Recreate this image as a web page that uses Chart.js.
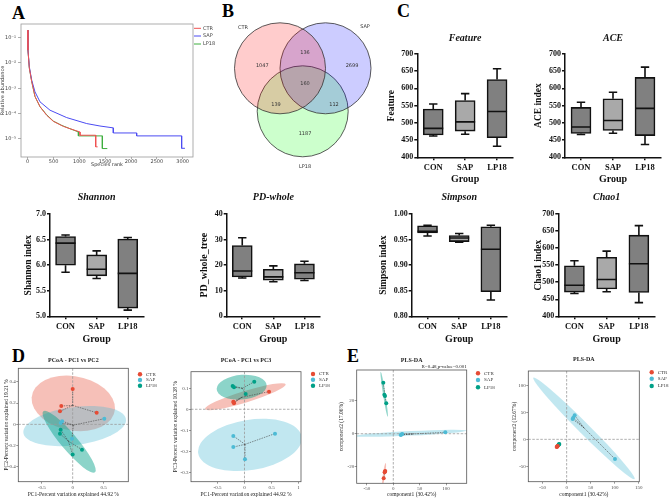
<!DOCTYPE html>
<html>
<head>
<meta charset="utf-8">
<script src="https://cdn.jsdelivr.net/npm/chart.js@4.4.1/dist/chart.umd.min.js"></script>
<style>
  body { margin: 0; background: #fff; }
  #fig { position: relative; width: 669px; height: 500px; overflow: hidden; background: #fff; }
  #fig canvas { position: absolute; }
  .tag { position: absolute; font-family: "Liberation Serif", serif; font-weight: bold; font-size: 18px; line-height: 1; color: #000; }
</style>
</head>
<body>
<div id="fig">
  <div class="tag" style="left:12px;top:4px">A</div>
  <div class="tag" style="left:222px;top:2px">B</div>
  <div class="tag" style="left:397px;top:2px">C</div>
  <div class="tag" style="left:12px;top:347px">D</div>
  <div class="tag" style="left:347px;top:347px">E</div>
</div>
<script>
// ---- A: rank abundance ----
const ctrRank  = [1, 5, 31, 77, 141, 238, 367, 496, 690, 819, 1012, 1012, 1316, 1316, 1354];
const ctrAbund = [0.2, 0.0324, 0.0063, 0.00186, 4.7e-4, 1.86e-4, 8.5e-5, 4.9e-5, 3.1e-5, 2.5e-5, 1.86e-5, 1.38e-5, 1.38e-5, 4.8e-6, 4.8e-6];
const sapRank  = [1, 5, 31, 77, 141, 238, 432, 754, 1142, 1399, 1657, 1657, 2109, 2109, 2980, 2980, 3044];
const sapAbund = [0.2, 0.0324, 0.00708, 0.00209, 7.2e-4, 2.9e-4, 1.35e-4, 6.9e-5, 4.0e-5, 3.2e-5, 2.7e-5, 1.7e-5, 1.7e-5, 1.3e-5, 1.3e-5, 4.2e-6, 4.2e-6];
const lpRank   = [1, 5, 31, 77, 141, 238, 367, 496, 657, 819, 981, 981, 1445, 1445, 1541];
const lpAbund  = [0.2, 0.0324, 0.0063, 0.00186, 4.7e-4, 1.86e-4, 8.9e-5, 5.0e-5, 3.4e-5, 2.5e-5, 1.86e-5, 1.3e-5, 1.3e-5, 4.1e-6, 4.1e-6];
const rankTicks  = [0, 500, 1000, 1500, 2000, 2500, 3000];
const abundTicks = [1e-1, 1e-2, 1e-3, 1e-4, 1e-5];

// ---- B: venn ----
const vennSets   = ['CTR', 'SAP', 'LP18'];
const vennCounts = [1047, 136, 2699, 160, 139, 112, 1187]; // CTR, CTR&SAP, SAP, all, CTR&LP18, SAP&LP18, LP18

// ---- C: alpha diversity, [min, q1, median, q3, max] per group ----
const groupsC = ['CON', 'SAP', 'LP18'];
const featureBox = [[462, 465, 484, 540, 555], [467, 476, 503, 565, 585], [432, 457, 533, 626, 657]];
const aceBox     = [[466, 469, 488, 545, 560], [470, 478, 507, 570, 589], [437, 463, 542, 632, 662]];
const shannonBox = [[5.86, 6.0, 6.43, 6.56, 6.59], [5.74, 5.79, 5.92, 6.2, 6.28], [5.12, 5.16, 5.84, 6.51, 6.54]];
const pdBox      = [[15.0, 15.4, 17.7, 27.7, 30.7], [13.5, 14.1, 15.4, 18.4, 19.7], [14.0, 14.5, 17.0, 20.5, 21.5]];
const simpsonBox = [[0.957, 0.963, 0.966, 0.977, 0.978], [0.945, 0.946, 0.953, 0.958, 0.962], [0.832, 0.848, 0.931, 0.975, 0.978]];
const chao1Box   = [[467, 471, 491, 548, 563], [472, 480, 508, 573, 591], [440, 470, 554, 638, 666]];
const richTicks   = [400, 450, 500, 550, 600, 650, 700];
const shannonTicks = [5.0, 5.5, 6.0, 6.5, 7.0];
const pdTicks      = [0, 10, 20, 30, 40];
const simpsonTicks = [0.80, 0.85, 0.90, 0.95, 1.00];

// ---- D / E: ordination, groups CTR, SAP, LP18 ----
const groupsD = ['CTR', 'SAP', 'LP18'];
const d1Ctr = [[0, 0.331], [-0.184, 0.172], [-0.205, 0.122], [0.387, 0.109]];
const d1Sap = [[0.51, 0.053], [-0.194, 0.012], [-0.011, -0.135], [-0.17, 0.03]];
const d1Lp  = [[-0.205, -0.088], [-0.194, -0.05], [0, -0.282], [0.15, -0.238]];
const d1Centroid = [[0, 0.178], [0.01, -0.007], [-0.07, -0.157]];
const d1Ellipse  = [[0.01, 0.197, 0.672, -0.055, 0.03, 0.255], [0.032, -0.016, 0.828, 0.055, 0, 0.18], [-0.057, -0.163, 0.417, -0.287, 0.102, 0.05]];
const d2Ctr = [[0.454, 0.084], [-0.207, 0.036], [-0.194, 0.029], [-0.2, 0.032]];
const d2Sap = [[-0.207, -0.127], [-0.207, -0.18], [0.009, -0.238], [0.565, -0.116]];
const d2Lp  = [[-0.219, 0.111], [-0.194, 0.105], [0.181, 0.131], [0.022, 0.073]];
const d2Centroid = [[-0.05, 0.057], [0.01, -0.167], [-0.04, 0.1]];
const d2Ellipse  = [[0.016, 0.06, 0.747, 0.059, 0.031, -0.026], [0.1, -0.17, 0.957, 0.04, 0.074, -0.118], [-0.052, 0.105, 0.463, 0.008, 0, 0.059]];
const e1Ctr = [[-15.2, -22.7], [-16.4, -23.5], [-18.2, -27.2], [-15.8, -23]];
const e1Sap = [[14, -0.8], [17, -0.2], [15.5, -0.5], [98.5, 0.85]];
const e1Lp  = [[-18.9, 31.1], [-17, 23.8], [-15.7, 23], [-13.3, 18.5]];
const e1Centroid = [[-16.4, -24.1], [36.2, -0.16], [-16.2, 24.1]];
const e1Ellipse  = [[-17.4, -24.6, 3.0, 6.7, 2.25, -0.1], [33.2, 0.24, 105.7, 1.65, 0, 1.4], [-17.25, 24.1, 6.6, -13.7, 2.24, 0.11]];
const e2Ctr = [[-19.4, -13], [-20.8, -14.2], [-18.7, -12.5], [-20, -13.5]];
const e2Sap = [[13.9, 40.1], [16.7, 44.4], [12.5, 37.6], [100.7, -36.4]];
const e2Lp  = [[-16, -9.3], [-17.4, -11.1], [-15.3, -8.5], [-16.7, -10]];
const e2Centroid = [[-19.7, -13.3], [36, 21.4], [-16.4, -9.7]];
const e2Ellipse  = [null, [36.1, 20.4, 105.5, -93.8, 8.1, 7.2], null];

// ---------------------------------------------------------------
const SERIF = '"Liberation Serif", "Times New Roman", serif';
const SANS = '"DejaVu Sans", sans-serif';
const fig = document.getElementById('fig');

function place(l, t, w, h) {
  const c = document.createElement('canvas');
  c.width = w; c.height = h;
  Object.assign(c.style, { left: l + 'px', top: t + 'px', width: w + 'px', height: h + 'px' });
  fig.appendChild(c);
  return c;
}

const sup = { '-': '⁻', '0': '⁰', '1': '¹', '2': '²', '3': '³', '4': '⁴', '5': '⁵', '6': '⁶', '7': '⁷', '8': '⁸', '9': '⁹' };

// ---------- A ----------
const rankDeco = {
  id: 'rankDeco',
  afterDraw(chart, args, o) {
    const { ctx, chartArea: a } = chart;
    ctx.save();
    ctx.strokeStyle = '#9a9a9a'; ctx.lineWidth = 0.8;
    ctx.strokeRect(a.left, a.top, a.width, a.height);
    ctx.font = '5px ' + SANS; ctx.textBaseline = 'middle';
    chart.data.datasets.forEach((d, i) => {
      ctx.strokeStyle = d.borderColor; ctx.lineWidth = 1;
      ctx.beginPath(); ctx.moveTo(o.x, o.y[i]); ctx.lineTo(o.x + 7, o.y[i]); ctx.stroke();
      ctx.fillStyle = '#444'; ctx.fillText(d.label, o.x + 9, o.y[i]);
    });
    ctx.restore();
  }
};

(function () {
  const cv = place(0, 18, 215, 152);
  const mk = (label, ranks, ab, color) => ({
    label, data: ranks.map((r, i) => ({ x: r, y: ab[i] })),
    borderColor: color, borderWidth: 1, pointRadius: 0, fill: false, tension: 0
  });
  const tickFont = { family: SANS, size: 5 };
  new Chart(cv, {
    type: 'line',
    data: { datasets: [mk('CTR', ctrRank, ctrAbund, '#f05252'), mk('SAP', sapRank, sapAbund, '#4b4bf2'), mk('LP18', lpRank, lpAbund, '#3fae3f')] },
    options: {
      responsive: false, animation: false, devicePixelRatio: 1,
      layout: { padding: { left: 0, top: 6, right: 22, bottom: 0 } },
      plugins: { legend: { display: false }, tooltip: { enabled: false }, rankDeco: { x: 194, y: [10.3, 18, 26] } },
      scales: {
        x: {
          type: 'linear', min: -130, max: 3200,
          afterBuildTicks: s => { s.ticks = rankTicks.map(v => ({ value: v })); },
          afterFit: s => { s.height = 13; },
          grid: { display: true, drawOnChartArea: false, drawTicks: true, tickLength: 2, color: '#777', lineWidth: 0.6 },
          border: { display: false },
          ticks: { font: tickFont, color: '#444', padding: 0, maxRotation: 0, autoSkip: false, callback: v => String(v) },
          title: { display: true, text: 'Species rank', color: '#333', font: { family: SANS, size: 5, lineHeight: 1.2 }, padding: { top: 0, bottom: 2.5 } }
        },
        y: {
          type: 'logarithmic', min: 1.9e-6, max: 0.349,
          afterBuildTicks: s => { s.ticks = abundTicks.map(v => ({ value: v })); },
          afterFit: s => { s.width = 21; },
          grid: { display: true, drawOnChartArea: false, drawTicks: true, tickLength: 3, color: '#777', lineWidth: 0.6 },
          border: { display: false },
          ticks: { font: tickFont, color: '#444', padding: 2, autoSkip: false,
            callback: v => '10' + String(Math.round(Math.log10(v))).split('').map(c => sup[c]).join('') },
          title: { display: true, text: 'Relative abundance', color: '#333', font: { family: SANS, size: 5, lineHeight: 1.2 }, padding: { top: 0, bottom: 0 } }
        }
      }
    },
    plugins: [rankDeco]
  });
})();

// ---------- B ----------
// geometry in canvas pixels (canvas at 215,18)
const vennLayout = {
  circles: [[65, 50.3], [110.5, 50.3], [87.7, 93.3]],
  radius: 45.5,
  border: 0.8,
  setLabels: [[28, 10], [150, 9], [90, 149]],
  countPos: [[47.3, 47.7], [90, 34.7], [137, 47.7], [90, 65.3], [61, 86.7], [119, 86.7], [90, 115.3]]
};
const vennText = {
  id: 'vennText',
  afterDatasetsDraw(chart) {
    const { ctx, scales: { x, y } } = chart;
    ctx.save();
    ctx.font = '5px ' + SANS; ctx.fillStyle = '#333';
    ctx.textAlign = 'center'; ctx.textBaseline = 'middle';
    vennSets.forEach((s, i) => {
      const p = vennLayout.setLabels[i];
      ctx.fillText(s, x.getPixelForValue(p[0]), y.getPixelForValue(p[1]));
    });
    vennCounts.forEach((n, i) => {
      const p = vennLayout.countPos[i];
      ctx.fillText(String(n), x.getPixelForValue(p[0]), y.getPixelForValue(p[1]));
    });
    ctx.restore();
  }
};
(function () {
  const W = 170, H = 160;
  const cv = place(215, 18, W, H);
  const fills = ['rgba(255,0,0,0.2)', 'rgba(0,0,255,0.2)', 'rgba(0,255,0,0.2)'];
  // bubbles inset the chart area by radius + border; keep value == canvas pixel
  const inset = vennLayout.radius + vennLayout.border;
  new Chart(cv, {
    type: 'bubble',
    data: {
      datasets: vennSets.map((s, i) => ({
        label: s,
        data: [{ x: vennLayout.circles[i][0], y: vennLayout.circles[i][1], r: vennLayout.radius }],
        backgroundColor: fills[i], borderColor: '#333', borderWidth: vennLayout.border, clip: false
      }))
    },
    options: {
      responsive: false, animation: false, devicePixelRatio: 1,
      layout: { padding: 0 },
      plugins: { legend: { display: false }, tooltip: { enabled: false } },
      scales: {
        x: { type: 'linear', min: inset, max: W - inset, display: false },
        y: { type: 'linear', min: inset, max: H - inset, reverse: true, display: false }
      }
    },
    plugins: [vennText]
  });
})();

// ---------- C ----------
const boxFills = ['#808080', '#a9a9a9', '#808080'];
const boxPlugin = {
  id: 'boxWhisk',
  afterDatasetsDraw(chart) {
    const { ctx, scales: { y } } = chart;
    const meta = chart.getDatasetMeta(0);
    const stats = chart.data.datasets[0].stats;
    ctx.save();
    ctx.strokeStyle = '#111'; ctx.lineWidth = 1.6;
    meta.data.forEach((bar, i) => {
      const [mn, q1, md, q3, mx] = stats[i];
      const x = bar.x, hw = bar.width / 2, cap = hw * 0.42;
      const py = v => y.getPixelForValue(v);
      ctx.beginPath();
      ctx.moveTo(x - hw, py(md)); ctx.lineTo(x + hw, py(md));
      ctx.moveTo(x, py(q3)); ctx.lineTo(x, py(mx));
      ctx.moveTo(x - cap, py(mx)); ctx.lineTo(x + cap, py(mx));
      ctx.moveTo(x, py(q1)); ctx.lineTo(x, py(mn));
      ctx.moveTo(x - cap, py(mn)); ctx.lineTo(x + cap, py(mn));
      ctx.stroke();
    });
    ctx.restore();
  }
};

function boxChart(b) {
  const [l, t, w, h] = b.rect;
  const cv = place(l, t, w, h);
  const tLh = 12, tPt = (b.titleY - t) - tLh / 2, tPb = (b.plotTop - t) - tPt - tLh;
  const yLh = b.ySize * 1.2;
  const axisGrid = { display: true, drawOnChartArea: false, drawTicks: true, tickLength: 3, color: '#111', lineWidth: 1.5 };
  const tickFont = { family: SERIF, size: 8, weight: 'bold' };
  new Chart(cv, {
    type: 'bar',
    data: {
      labels: groupsC,
      datasets: [{
        data: b.stats.map(s => [s[1], s[3]]), stats: b.stats,
        backgroundColor: boxFills, borderColor: '#111', borderWidth: 1.6, borderSkipped: false, barThickness: 20
      }]
    },
    options: {
      responsive: false, animation: false, devicePixelRatio: 1,
      layout: { padding: { left: 0, top: 0, bottom: 0, right: l + w - b.plotRight } },
      plugins: {
        legend: { display: false }, tooltip: { enabled: false },
        title: { display: true, text: b.title, fullSize: false, color: '#111',
          font: { family: SERIF, size: 10, weight: 'bold', style: 'italic', lineHeight: 1.2 },
          padding: { top: tPt, bottom: tPb } }
      },
      scales: {
        x: {
          afterFit: s => { s.height = t + h - b.plotBottom; },
          grid: Object.assign({ offset: false }, axisGrid),
          border: { display: true, color: '#111', width: 1.5 },
          ticks: { color: '#111', padding: 2, font: { family: SERIF, size: 8.5, weight: 'bold' }, maxRotation: 0 },
          title: { display: true, text: 'Group', color: '#111', font: { family: SERIF, size: 10, weight: 'bold', lineHeight: 1.2 },
            padding: { top: 0, bottom: t + h - b.groupY - 6 } }
        },
        y: {
          min: b.ticks[0], max: b.ticks[b.ticks.length - 1],
          afterBuildTicks: s => { s.ticks = b.ticks.map(v => ({ value: v })); },
          afterFit: s => { s.width = b.axisX - l; },
          grid: axisGrid,
          border: { display: true, color: '#111', width: 1.5 },
          ticks: { color: '#111', padding: 1, font: tickFont, autoSkip: false, callback: v => v.toFixed(b.dec) },
          title: { display: true, text: b.yTitle, color: '#111', font: { family: SERIF, size: b.ySize, weight: 'bold', lineHeight: 1.2 },
            padding: { top: b.yTitleX - l - yLh / 2, bottom: 0 } }
        }
      }
    },
    plugins: [boxPlugin]
  });
}

boxChart({ rect: [385, 28, 135, 162], axisX: 417.3, plotTop: 54, plotBottom: 157.3, plotRight: 513, titleY: 38, groupY: 179.3,
  title: 'Feature', yTitle: 'Feature', yTitleX: 391.7, ySize: 9.5, stats: featureBox, ticks: richTicks, dec: 0 });
boxChart({ rect: [533, 28, 135, 162], axisX: 565, plotTop: 54, plotBottom: 157.3, plotRight: 661, titleY: 38, groupY: 179.3,
  title: 'ACE', yTitle: 'ACE index', yTitleX: 538.3, ySize: 9.5, stats: aceBox, ticks: richTicks, dec: 0 });
boxChart({ rect: [18, 188, 132, 161], axisX: 50, plotTop: 214, plotBottom: 316.3, plotRight: 143.3, titleY: 197.7, groupY: 339,
  title: 'Shannon', yTitle: 'Shannon index', yTitleX: 28.3, ySize: 9.5, stats: shannonBox, ticks: shannonTicks, dec: 1 });
boxChart({ rect: [194, 188, 133, 161], axisX: 226.7, plotTop: 214, plotBottom: 316.3, plotRight: 320, titleY: 197.7, groupY: 339,
  title: 'PD-whole', yTitle: 'PD_whole_tree', yTitleX: 204, ySize: 10, stats: pdBox, ticks: pdTicks, dec: 0 });
boxChart({ rect: [375, 188, 138, 161], axisX: 411.7, plotTop: 214, plotBottom: 316.3, plotRight: 506.7, titleY: 197.7, groupY: 339,
  title: 'Simpson', yTitle: 'Simpson index', yTitleX: 383.3, ySize: 9.5, stats: simpsonBox, ticks: simpsonTicks, dec: 2 });
boxChart({ rect: [526, 188, 136, 161], axisX: 558.3, plotTop: 214, plotBottom: 316.3, plotRight: 655, titleY: 197.7, groupY: 339,
  title: 'Chao1', yTitle: 'Chao1 index', yTitleX: 538.5, ySize: 9.5, stats: chao1Box, ticks: richTicks, dec: 0 });

// ---------- D / E ----------
const ordColors = ['#E64B35', '#4DBBD5', '#00A087'];
const ordFills = ['rgba(230,75,53,0.35)', 'rgba(77,187,213,0.35)', 'rgba(0,160,135,0.45)'];
const ordPlugin = {
  id: 'ord',
  beforeDatasetsDraw(chart, args, o) {
    const { ctx, chartArea: a, scales: { x, y } } = chart;
    ctx.save();
    ctx.beginPath(); ctx.rect(a.left, a.top, a.width, a.height); ctx.clip();
    o.ellipses.forEach((e, i) => {
      if (!e) return;
      const cx = x.getPixelForValue(e[0]), cy = y.getPixelForValue(e[1]);
      const ux = x.getPixelForValue(e[0] + e[2]) - cx, uy = y.getPixelForValue(e[1] + e[3]) - cy;
      const vx = x.getPixelForValue(e[0] + e[4]) - cx, vy = y.getPixelForValue(e[1] + e[5]) - cy;
      ctx.save();
      ctx.transform(ux, uy, vx, vy, cx, cy);
      ctx.beginPath(); ctx.arc(0, 0, 1, 0, Math.PI * 2);
      ctx.restore();
      ctx.fillStyle = ordFills[i]; ctx.fill();
    });
    const x0 = x.getPixelForValue(0), y0 = y.getPixelForValue(0);
    ctx.strokeStyle = '#9a9a9a'; ctx.lineWidth = 0.8; ctx.setLineDash([2.5, 1.5]);
    ctx.beginPath();
    ctx.moveTo(x0, a.top); ctx.lineTo(x0, a.bottom);
    ctx.moveTo(a.left, y0); ctx.lineTo(a.right, y0);
    ctx.stroke();
    ctx.strokeStyle = '#444'; ctx.lineWidth = 0.6; ctx.setLineDash([1.5, 1]);
    chart.data.datasets.forEach((d, i) => {
      const c = o.centroids[i];
      const px = x.getPixelForValue(c[0]), py = y.getPixelForValue(c[1]);
      ctx.beginPath();
      d.data.forEach(p => { ctx.moveTo(px, py); ctx.lineTo(x.getPixelForValue(p.x), y.getPixelForValue(p.y)); });
      ctx.stroke();
    });
    ctx.restore();
  },
  afterDraw(chart, args, o) {
    const { ctx, chartArea: a } = chart;
    ctx.save();
    ctx.strokeStyle = '#555'; ctx.lineWidth = 0.8;
    ctx.strokeRect(a.left, a.top, a.width, a.height);
    ctx.font = '5px ' + SERIF; ctx.textBaseline = 'middle';
    chart.data.datasets.forEach((d, i) => {
      ctx.fillStyle = ordColors[i];
      ctx.beginPath(); ctx.arc(o.legX, o.legY[i], 2.2, 0, Math.PI * 2); ctx.fill();
      ctx.fillStyle = '#333'; ctx.fillText(d.label, o.legX + 6, o.legY[i]);
    });
    ctx.restore();
  }
};

function ordAxis(min, max, ticks, title, size, fitFn, titlePad) {
  return {
    type: 'linear', min, max,
    afterBuildTicks: s => { s.ticks = ticks.map(v => ({ value: v })); },
    afterFit: fitFn,
    grid: { display: true, drawOnChartArea: false, drawTicks: true, tickLength: 2, color: '#555', lineWidth: 0.6 },
    border: { display: false },
    ticks: { font: { family: SERIF, size: 5 }, color: '#4d4d4d', padding: 0.5, maxRotation: 0, autoSkip: false, callback: v => String(v) },
    title: { display: true, text: title, color: '#222', font: { family: SERIF, size: size, lineHeight: 1.2 }, padding: titlePad }
  };
}

function ordChart(c) {
  const [l, t, w, h] = c.rect;
  const cv = place(l, t, w, h);
  const p = c.plot;
  const tLh = 7.2, tPt = (c.titleY - t) - tLh / 2;
  let tPb = (p.top - t) - tPt - tLh, sPt = 0, sPb = 0;
  if (c.sub) {
    tPb = 0;
    sPt = (c.subY - t) - 3 - (tPt + tLh);
    sPb = (p.top - t) - (tPt + tLh) - sPt - 6;
  }
  new Chart(cv, {
    type: 'scatter',
    data: {
      datasets: groupsD.map((g, i) => ({
        label: g, data: c.points[i].map(q => ({ x: q[0], y: q[1] })),
        backgroundColor: ordColors[i], borderColor: ordColors[i], borderWidth: 0, pointRadius: 2
      }))
    },
    options: {
      responsive: false, animation: false, devicePixelRatio: 1,
      layout: { padding: { left: 0, top: 0, bottom: 0, right: l + w - p.right } },
      plugins: {
        legend: { display: false }, tooltip: { enabled: false },
        title: { display: true, text: c.title, fullSize: false, color: '#222', font: { family: SERIF, size: 6, lineHeight: 1.2 }, padding: { top: tPt, bottom: tPb } },
        subtitle: { display: !!c.sub, text: c.sub || '', fullSize: false, align: 'end', color: '#222', font: { family: SERIF, size: 5, lineHeight: 1.2 }, padding: { top: sPt, bottom: sPb } },
        ord: { ellipses: c.ellipses, centroids: c.centroids, legX: c.legX - l, legY: c.legY.map(v => v - t) }
      },
      scales: {
        x: ordAxis(c.xr[0], c.xr[1], c.xt, c.xTitle, 5.5, s => { s.height = t + h - p.bottom; }, { top: 0, bottom: t + h - c.xTitleY - 3.3 }),
        y: ordAxis(c.yr[0], c.yr[1], c.yt, c.yTitle, 5.5, s => { s.width = p.left - l; }, { top: c.yTitleX - l - 3.3, bottom: 0 })
      }
    },
    plugins: [ordPlugin]
  });
}

ordChart({
  rect: [0, 355, 165, 145], plot: { left: 18.3, top: 368.3, right: 128.3, bottom: 481.7 },
  title: 'PCoA - PC1 vs PC2', titleY: 360,
  xr: [-0.877, 0.897], xt: [-0.5, 0, 0.5], yr: [-0.538, 0.526], yt: [-0.4, -0.2, 0, 0.2, 0.4],
  xTitle: 'PC1-Percent variation explained 44.92 %', xTitleY: 494.3,
  yTitle: 'PC2-Percent variation explained 19.21 %', yTitleX: 6.7,
  points: [d1Ctr, d1Sap, d1Lp], centroids: d1Centroid, ellipses: d1Ellipse,
  legX: 140, legY: [374.3, 380, 385.7]
});
ordChart({
  rect: [165, 355, 170, 145], plot: { left: 191, top: 371.7, right: 301, bottom: 481.7 },
  title: 'PCoA - PC1 vs PC3', titleY: 360,
  xr: [-0.99, 1.046], xt: [-0.5, 0, 0.5, 1], yr: [-0.345, 0.179], yt: [-0.3, -0.2, -0.1, 0, 0.1],
  xTitle: 'PC1-Percent variation explained 44.92 %', xTitleY: 494.3,
  yTitle: 'PC3-Percent variation explained 10.28 %', yTitleX: 176,
  points: [d2Ctr, d2Sap, d2Lp], centroids: d2Centroid, ellipses: d2Ellipse,
  legX: 313, legY: [374, 379.7, 385.7]
});
ordChart({
  rect: [335, 355, 165, 145], plot: { left: 356.7, top: 370, right: 466.7, bottom: 483.3 },
  title: 'PLS-DA', titleY: 360, sub: 'R=0.48,p-value=0.001', subY: 366.7,
  xr: [-69.3, 139], xt: [-50, 0, 50, 100], yr: [-30.2, 38.8], yt: [-20, 0, 20],
  xTitle: 'component1 (30.42%)', xTitleY: 494.3,
  yTitle: 'component2 (17.06%)', yTitleX: 341.7,
  points: [e1Ctr, e1Sap, e1Lp], centroids: e1Centroid, ellipses: e1Ellipse,
  legX: 478, legY: [373.3, 380, 387.3]
});
ordChart({
  rect: [500, 355, 169, 145], plot: { left: 528.3, top: 371, right: 639.3, bottom: 481.7 },
  title: 'PLS-DA', titleY: 359,
  xr: [-79.9, 151.4], xt: [-50, 0, 50, 100, 150], yr: [-78.4, 126.5], yt: [-50, 0, 50, 100],
  xTitle: 'component1 (30.42%)', xTitleY: 494.3,
  yTitle: 'component2 (12.67%)', yTitleX: 515,
  points: [e2Ctr, e2Sap, e2Lp], centroids: e2Centroid, ellipses: e2Ellipse,
  legX: 651.7, legY: [372.3, 378.7, 386]
});
</script>
</body>
</html>
